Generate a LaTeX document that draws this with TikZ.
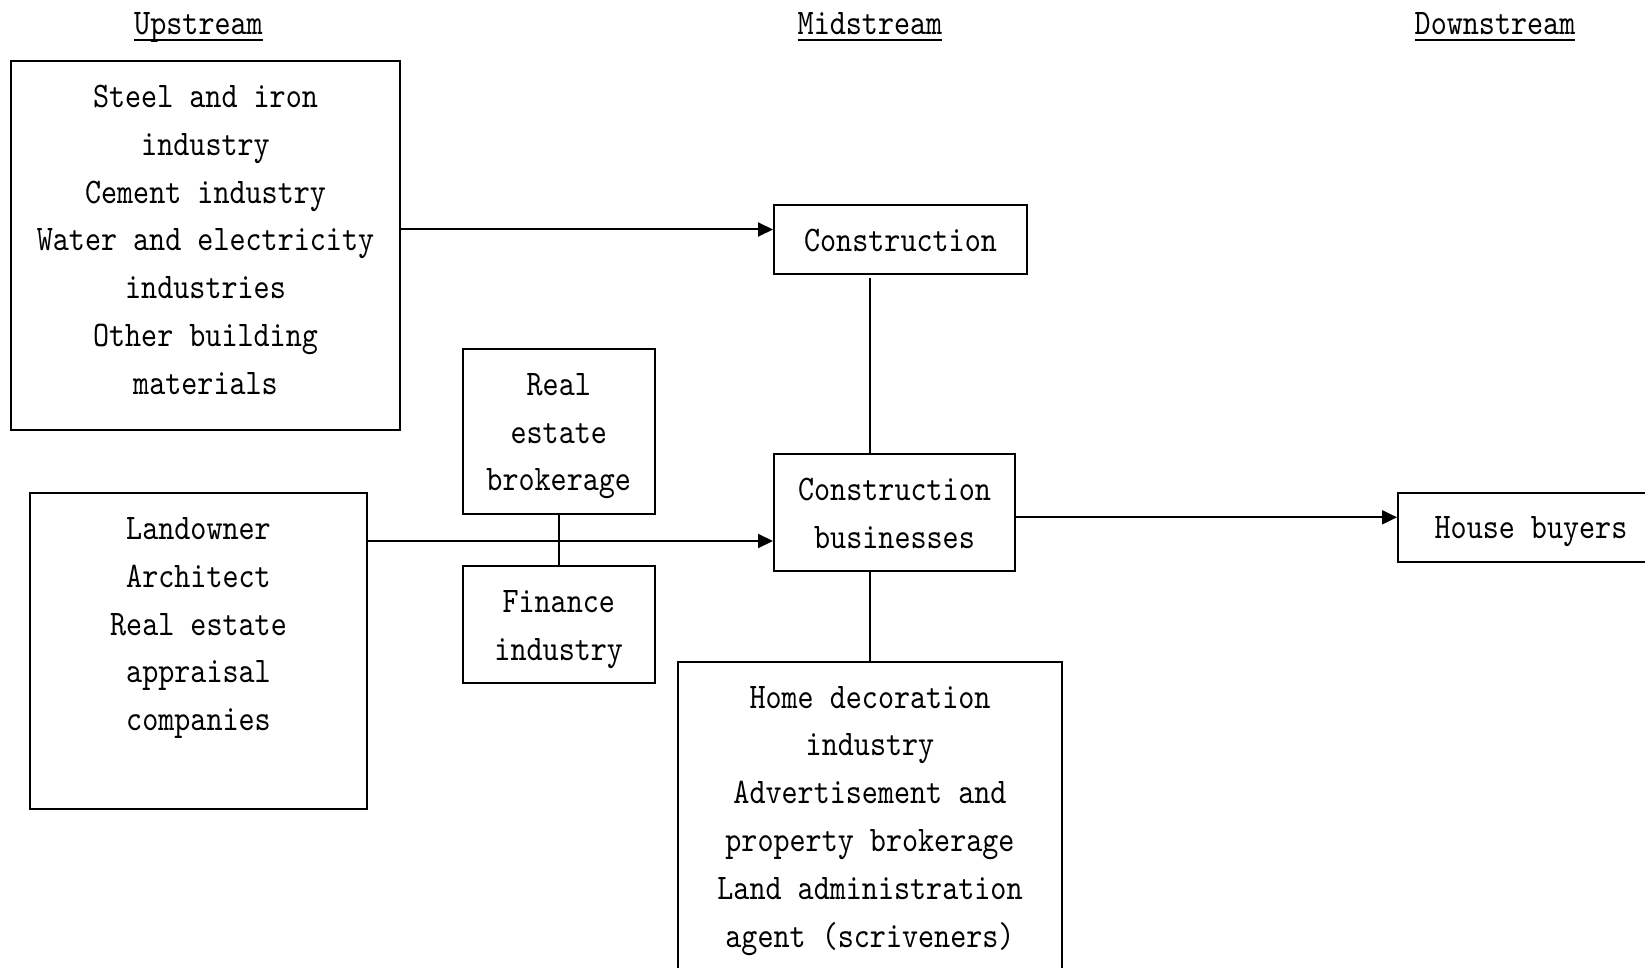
\documentclass[tikz,border=0pt]{standalone}
\usepackage{fontspec}
\newfontfamily\dfont[FakeStretch=0.85]{lmmono10-regular.otf}
\usetikzlibrary{arrows.meta}
\newcommand\hdrul[1]{\setbox0=\hbox{#1}\rlap{\vrule width\wd0 height -2pt depth 3pt}\box0}
\begin{document}
\begin{tikzpicture}[x=0.5pt,y=-0.5pt,
  box/.style={draw, line width=1pt, inner sep=0pt, rectangle},
  txt/.style={font={\dfont\fontsize{18}{23.95}\selectfont}, align=center, inner sep=0pt, anchor=north},
  hdr/.style={font={\dfont\fontsize{18}{23.95}\selectfont}, inner sep=0pt, anchor=base},
  conn/.style={line width=1pt},
  arr/.style={conn, -{Triangle[length=7.5pt,width=7pt]}}]
\useasboundingbox (0,0) rectangle (1645,968);
\clip (0,0) rectangle (1645,968);

% headers
\node[hdr] (hup) at (198.5,35) {\hdrul{Upstream}};
\node[hdr] (hmid) at (870,35) {\hdrul{Midstream}};
\node[hdr] (hdown) at (1495,35) {\hdrul{Downstream}};

% boxes
\node[box, minimum width=194.5pt, minimum height=184.5pt] (up1) at (205.5,245.5) {};
\node[box, minimum width=126.5pt, minimum height=34.5pt] (con) at (900.5,239.5) {};
\node[box, minimum width=96.25pt, minimum height=82.5pt] (reb) at (558.75,431.5) {};
\node[box, minimum width=96.25pt, minimum height=58.5pt] (fin) at (558.75,624.5) {};
\node[box, minimum width=168.5pt, minimum height=158pt] (land) at (198.5,651) {};
\node[box, minimum width=120.5pt, minimum height=58.5pt] (cb) at (894.5,512.5) {};
\node[box, minimum width=192pt, minimum height=170pt] (hd) at (870,832) {};
\node[box, minimum width=133pt, minimum height=34.5pt] (hb) at (1531,527.5) {};

% texts
\node[txt] (up1t) at ([yshift=-12.25pt]up1.north) {Steel and iron\\industry\\Cement industry\\Water and electricity\\industries\\Other building\\materials};
\node[txt] (cont) at ([yshift=-12.5pt]con.north) {Construction};
\node[txt] (rebt) at ([yshift=-12.4pt]reb.north) {Real\\estate\\brokerage};
\node[txt] (fint) at ([yshift=-12.6pt]fin.north) {Finance\\industry};
\node[txt] (landt) at ([yshift=-12.4pt]land.north) {Landowner\\Architect\\Real estate\\appraisal\\companies};
\node[txt] (cbt) at ([yshift=-12.2pt]cb.north) {Construction\\businesses};
\node[txt] (hdt) at ([yshift=-12.3pt]hd.north) {Home decoration\\industry\\Advertisement and\\property brokerage\\Land administration\\agent (scriveners)};
\node[txt] (hbt) at ([yshift=-12pt]hb.north) {House buyers};

% connectors
\coordinate (y1) at (0,229.5);
\draw[arr] (y1 -| up1.east) -- (y1 -| con.west);
\coordinate (y2) at (0,541);
\draw[arr] (y2 -| land.east) -- (y2 -| cb.west);
\draw[conn] (reb.south) -- (fin.north);
\path ([yshift=-1.5pt]con.south) coordinate (cs);
\draw[conn] (cs -| hd.north) -- (cb.north -| hd.north);
\draw[conn] (cb.south -| hd.north) -- (hd.north);
\coordinate (y3) at (0,517.3);
\draw[arr] (y3 -| cb.east) -- (y3 -| hb.west);
\end{tikzpicture}
\end{document}
